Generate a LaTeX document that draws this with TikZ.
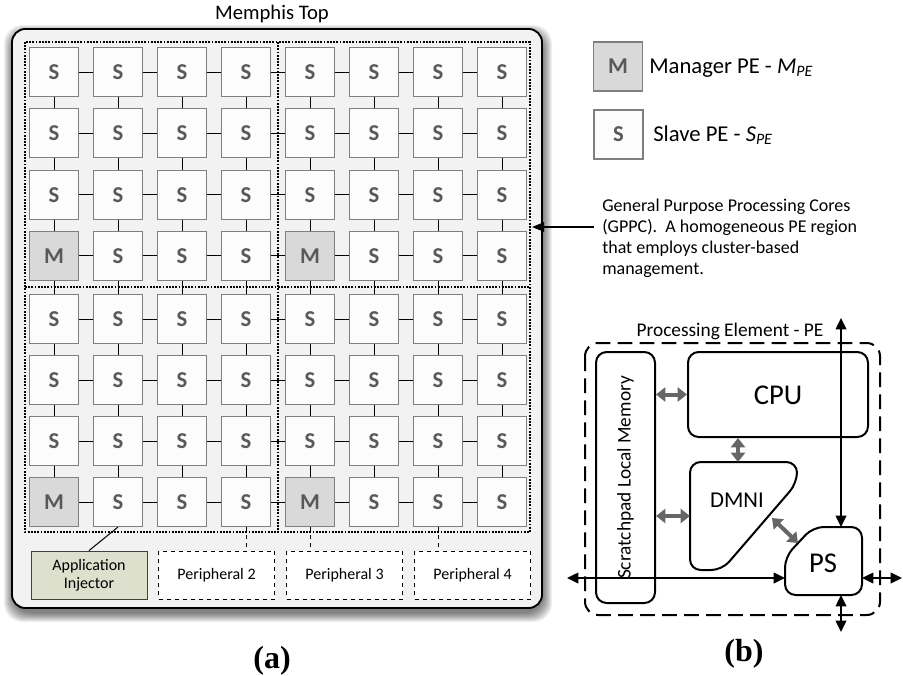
\documentclass[tikz,border=0pt]{standalone}
\usepackage{fontspec}
\setmainfont{Carlito}
\newfontfamily\capfont{Liberation Serif}
\usetikzlibrary{arrows.meta}

\definecolor{chipbg}{HTML}{F2F2F2}
\definecolor{pefill}{HTML}{FCFCFC}
\definecolor{peborder}{HTML}{7F7F7F}
\definecolor{mfill}{HTML}{D9D9D9}
\definecolor{letter}{HTML}{595959}
\definecolor{injfill}{HTML}{DDE0CC}
\definecolor{injborder}{HTML}{404040}
\definecolor{busgray}{HTML}{666666}

\newcommand{\fs}[1]{\fontsize{#1}{#1}\selectfont}

\tikzset{
  pebox/.style={draw=peborder, line width=0.8pt, fill=pefill, minimum size=36.75pt,
    inner sep=0pt, font=\fs{17}\bfseries, text=letter},
  mgrbox/.style={pebox, fill=mfill},
  link/.style={line width=0.75pt, black},
  cluster/.style={densely dotted, line width=1.4pt},
  periph/.style={draw, dashed, line width=0.6pt, fill=white, minimum width=87pt,
    minimum height=36pt, inner sep=0pt, font=\fontsize{12}{13.5}\selectfont, align=center},
  injector/.style={periph, solid, draw=injborder, fill=injfill},
  dpath/.style={dashed, line width=0.6pt},
  block/.style={draw, line width=1.5pt, rounded corners=8pt},
  gbus/.style={draw=busgray, line width=3pt,
    {Triangle[length=7pt,width=10.5pt]}-{Triangle[length=7pt,width=10.5pt]}},
  bus/.style={line width=1.1pt,
    {Triangle[length=8.5pt,width=8pt]}-{Triangle[length=8.5pt,width=8pt]}},
  caption/.style={font=\capfont\bfseries\fs{24}},
}

\begin{document}
\begin{tikzpicture}[x=0.75pt,y=-0.75pt]
\useasboundingbox (0,0) rectangle (903,675);

% soft shadow of the chip
\foreach \i in {0,...,10}{
  \fill[black, opacity=0.06, rounded corners=14pt]
    (12-\i*0.9+1,29-\i*0.9+5) rectangle (542+\i*0.9+1,608+\i*0.9+5);
}
% chip outline
\node[draw, line width=1.4pt, fill=chipbg, rounded corners=10pt, minimum width=397.5pt,
  minimum height=434.25pt, inner sep=0pt] (chip) at (277,318.5) {};
\node[font=\fs{15.5}] (title) at (272,14) {Memphis Top};

% PE mesh
\foreach \r in {1,...,8}{
  \foreach \c in {1,...,8}{
    \pgfmathsetmacro{\xx}{54+64*(\c-1)}
    \pgfmathsetmacro{\yy}{\r<5 ? 72+61.33*(\r-1) : 319+61*(\r-5)}
    \pgfmathtruncatemacro{\ismgr}{((\r==4)||(\r==8))&&((\c==1)||(\c==5))}
    \ifnum\ismgr=1
      \node[mgrbox] (n-\r-\c) at (\xx,\yy) {M};
    \else
      \node[pebox] (n-\r-\c) at (\xx,\yy) {S};
    \fi
  }
}
\foreach \r in {1,...,8}{
  \foreach \c [evaluate=\c as \cn using int(\c+1)] in {1,...,7}{
    \draw[link] (n-\r-\c.east) -- (n-\r-\cn.west);
  }
}
\foreach \r [evaluate=\r as \rn using int(\r+1)] in {1,...,7}{
  \foreach \c in {1,...,8}{
    \draw[link] (n-\r-\c.south) -- (n-\rn-\c.north);
  }
}

% clusters
\draw[cluster] (25,42) rectangle (530,532);
\draw[cluster] (278,42) -- (278,532);
\draw[cluster] (25,287) -- (530,287);

% peripherals
\node[injector] (inj) at (89,575) {Application\\Injector};
\node[periph] (per2) at (216.5,575) {Peripheral 2};
\node[periph] (per3) at (344.5,575) {Peripheral 3};
\node[periph] (per4) at (472.5,575) {Peripheral 4};
\draw[link] (n-8-2.south) -- (inj.north);
\draw[dpath] (n-8-4.south) -- (n-8-4.south |- per2.north);
\draw[dpath] (n-8-5.south) -- (n-8-5.south |- per3.north);
\draw[dpath] (n-8-7.south) -- (n-8-7.south |- per4.north);

\node[caption] (capa) at (272,661) {(a)};

% legend
\node[mgrbox] (legm) at (618,66.5) {M};
\node[pebox] (legs) at (618.5,134.5) {S};
\node[anchor=west, font=\fs{17}, inner sep=0pt] (legmtxt) at (649,68)
  {Manager PE - \textit{M}\textsubscript{\textit{PE}}};
\node[anchor=west, font=\fs{17}, inner sep=0pt] (legstxt) at (653,135)
  {Slave PE - \textit{S}\textsubscript{\textit{PE}}};

% GPPC note
\node[anchor=north west, align=left, inner sep=0pt, font=\fontsize{13.5}{15.75}\selectfont]
  (gppc) at (602,199)
  {General Purpose Processing Cores\\(GPPC).\ \ A homogeneous PE region\\that employs cluster-based\\management.};
\coordinate (gppc-tail) at (594,227);
\coordinate (gppc-head) at (532,227);
\draw[line width=1.1pt, -{Triangle[length=9pt,width=7pt]}] (gppc-tail) -- (gppc-head);

% processing element
\draw[line width=1.5pt, dash pattern=on 11pt off 5.5pt, rounded corners=10pt]
  (585,343) rectangle (880,615);
\node[font=\fs{14.5}, inner sep=0pt] (pelabel) at (730,331) {Processing Element - PE};

\node[block, minimum width=44.25pt, minimum height=188.25pt, inner sep=0pt]
  (spm) at (625.5,477.5) {};
\node[rotate=90, font=\fs{14.5}] (spmtxt) at (spm.center) {Scratchpad Local Memory};

\node[block, minimum width=135pt, minimum height=63.75pt, inner sep=0pt]
  (cpu) at (778,394.5) {};
\node[font=\fs{21.5}] (cputxt) at (778,395) {CPU};

\draw[line width=1.5pt, rounded corners=8pt]
  (690,462) -- (797,462) -- (797,483) -- (722,570) -- (690,570) -- cycle;
\node[font=\fs{17}] (dmni) at (737,500) {DMNI};
\coordinate (dmni-n) at (738,462);
\coordinate (dmni-w1) at (690,516);
\coordinate (dmni-diag) at (772,518);

\draw[line width=1.5pt, rounded corners=8pt]
  (813,527) -- (862,527) -- (862,595) -- (785,595) -- (785,557) -- cycle;
\node[font=\fs{21.5}] (ps) at (823,563) {PS};
\coordinate (ps-n) at (841,527);
\coordinate (ps-s) at (841,595);
\coordinate (ps-w) at (785,578);
\coordinate (ps-e) at (862,578);
\coordinate (ps-ne) at (798,543);

% internal buses
\draw[gbus] (spm.east |- cpu.center) -- (cpu.west);
\draw[gbus] (spm.east |- dmni-w1) -- (dmni-w1);
\draw[gbus] (cpu.south -| dmni-n) -- (dmni-n);
\draw[gbus] (dmni-diag) -- (ps-ne);

% network ports
\coordinate (port-n) at (841,318);
\coordinate (port-w) at (567,578);
\coordinate (port-e) at (902,578);
\coordinate (port-s) at (841,632);
\draw[bus] (port-n) -- (ps-n);
\draw[bus] (port-w) -- (ps-w);
\draw[bus] (ps-e) -- (port-e);
\draw[bus] (ps-s) -- (port-s);

\node[caption] (capb) at (744,654) {(b)};
\end{tikzpicture}
\end{document}
